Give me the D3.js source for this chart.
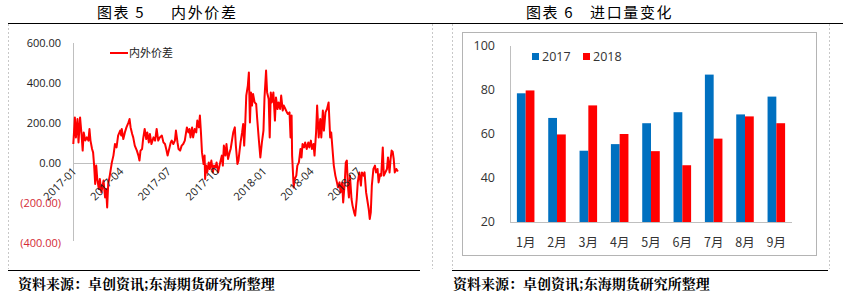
<!DOCTYPE html>
<html>
<head>
<meta charset="utf-8">
<script src="https://cdn.jsdelivr.net/npm/d3@7"></script>
<style>
  html, body { margin: 0; padding: 0; background: #fff; }
  svg { display: block; font-family: "Open Sans", "Noto Sans CJK SC", sans-serif; }
</style>
</head>
<body>
<div id="chart"></div>
<script>
// ---- data: left chart (内外价差) ----
const spreadTicks = ['2017-01', '2017-04', '2017-07', '2017-10', '2018-01', '2018-04', '2018-07']
const spreadYTicks = [600, 400, 200, 0, -200, -400]
const spreadSeries = [
  ['2017-01-01', 95], ['2017-01-04', 228], ['2017-01-06', 128], ['2017-01-09', 220], ['2017-01-11', 103],
  ['2017-01-14', 228], ['2017-01-17', 137], ['2017-01-19', 62], ['2017-01-21', 153], ['2017-01-24', 112],
  ['2017-01-27', 128], ['2017-01-30', 112], ['2017-02-01', 170], ['2017-02-03', 112], ['2017-02-06', 70],
  ['2017-02-08', 53], ['2017-02-10', -13], ['2017-02-12', -105], ['2017-02-14', -13], ['2017-02-16', -80],
  ['2017-02-19', -130], ['2017-02-21', -80], ['2017-02-24', -147], ['2017-02-28', -88], ['2017-03-03', -172],
  ['2017-03-05', -130], ['2017-03-07', -222], ['2017-03-09', -105], ['2017-03-12', -63], ['2017-03-16', 3],
  ['2017-03-19', 37], ['2017-03-22', 95], ['2017-03-25', 78], ['2017-03-28', 137], ['2017-04-01', 162],
  ['2017-04-03', 137], ['2017-04-04', 170], ['2017-04-07', 120], ['2017-04-10', 153], ['2017-04-13', 178],
  ['2017-04-17', 203], ['2017-04-19', 220], ['2017-04-21', 178], ['2017-04-24', 145], ['2017-04-26', 128],
  ['2017-04-29', 87], ['2017-05-03', 62], ['2017-05-06', 37], ['2017-05-08', 12], ['2017-05-10', 62],
  ['2017-05-13', 70], ['2017-05-15', 120], ['2017-05-18', 170], ['2017-05-21', 120], ['2017-05-23', 153],
  ['2017-05-26', 103], ['2017-05-28', 145], ['2017-05-31', 95], ['2017-06-04', 128], ['2017-06-07', 112],
  ['2017-06-10', 170], ['2017-06-13', 112], ['2017-06-16', 128], ['2017-06-20', 137], ['2017-06-23', 103],
  ['2017-06-26', 95], ['2017-06-29', 62], ['2017-07-01', 37], ['2017-07-04', 70], ['2017-07-07', 103],
  ['2017-07-09', 112], ['2017-07-12', 95], ['2017-07-15', 112], ['2017-07-17', 162], ['2017-07-20', 103],
  ['2017-07-22', 70], ['2017-07-25', 62], ['2017-07-28', 87], ['2017-07-31', 95], ['2017-08-03', 112],
  ['2017-08-07', 178], ['2017-08-10', 153], ['2017-08-12', 170], ['2017-08-14', 128], ['2017-08-17', 178],
  ['2017-08-19', 128], ['2017-08-22', 170], ['2017-08-25', 153], ['2017-08-27', 212], ['2017-08-30', 178],
  ['2017-09-01', 237], ['2017-09-03', 153], ['2017-09-05', 53], ['2017-09-08', -5], ['2017-09-10', 37],
  ['2017-09-11', -80], ['2017-09-13', -13], ['2017-09-15', -47], ['2017-09-18', 3], ['2017-09-20', -30],
  ['2017-09-23', 12], ['2017-09-26', -47], ['2017-09-28', -13], ['2017-10-01', -22], ['2017-10-03', 3],
  ['2017-10-06', -47], ['2017-10-10', 3], ['2017-10-13', 37], ['2017-10-15', -13], ['2017-10-17', 87],
  ['2017-10-20', 37], ['2017-10-22', 95], ['2017-10-25', 20], ['2017-10-28', 53], ['2017-10-30', 70],
  ['2017-11-02', 120], ['2017-11-04', 153], ['2017-11-07', 178], ['2017-11-09', 87], ['2017-11-12', -5],
  ['2017-11-14', 12], ['2017-11-18', 103], ['2017-11-21', 153], ['2017-11-23', 195], ['2017-11-25', 87],
  ['2017-11-27', 195], ['2017-11-29', 337], ['2017-12-02', 387], ['2017-12-04', 453], ['2017-12-06', 203],
  ['2017-12-08', 353], ['2017-12-10', 287], ['2017-12-12', 345], ['2017-12-15', 303], ['2017-12-18', 295],
  ['2017-12-20', 220], ['2017-12-23', 120], ['2017-12-26', 28], ['2017-12-29', 103],
  ['2018-01-01', 162], ['2018-01-03', 328], ['2018-01-06', 462], ['2018-01-08', 353], ['2018-01-11', 320],
  ['2018-01-13', 128], ['2018-01-15', 353], ['2018-01-17', 303], ['2018-01-20', 353], ['2018-01-23', 212],
  ['2018-01-25', 328], ['2018-01-28', 270], ['2018-01-30', 303], ['2018-02-02', 270], ['2018-02-04', 337],
  ['2018-02-07', 262], ['2018-02-09', 287], ['2018-02-12', 270], ['2018-02-15', 253], ['2018-02-17', 245],
  ['2018-02-20', 253], ['2018-02-22', 128], ['2018-02-24', 237], ['2018-02-25', 37], ['2018-02-28', -122],
  ['2018-03-02', -80], ['2018-03-05', -63], ['2018-03-07', -13], ['2018-03-10', 3], ['2018-03-13', 70],
  ['2018-03-15', 28], ['2018-03-17', 95], ['2018-03-20', 78], ['2018-03-22', 103], ['2018-03-25', 70],
  ['2018-03-28', 103], ['2018-03-30', 78], ['2018-04-02', 112], ['2018-04-04', 70], ['2018-04-07', 95],
  ['2018-04-09', 37], ['2018-04-12', 153], ['2018-04-14', 287], ['2018-04-17', 128], ['2018-04-20', 220],
  ['2018-04-22', 128], ['2018-04-25', 262], ['2018-04-27', 162], ['2018-04-30', 253], ['2018-05-03', 270],
  ['2018-05-06', 303], ['2018-05-09', 128], ['2018-05-11', 153], ['2018-05-14', 53], ['2018-05-16', -13],
  ['2018-05-19', -63], ['2018-05-22', -97], ['2018-05-24', -122], ['2018-05-27', -97], ['2018-05-29', -147],
  ['2018-06-01', -97], ['2018-06-03', -197], ['2018-06-06', -97], ['2018-06-08', 3], ['2018-06-10', 12],
  ['2018-06-12', -113], ['2018-06-14', -172], ['2018-06-16', -63], ['2018-06-19', -180], ['2018-06-21', -213],
  ['2018-06-24', -247], ['2018-06-26', -263], ['2018-06-29', -180], ['2018-07-01', -97], ['2018-07-04', -47],
  ['2018-07-07', -113], ['2018-07-09', -47], ['2018-07-12', -63], ['2018-07-14', -47], ['2018-07-17', -147],
  ['2018-07-19', -180], ['2018-07-22', -230], ['2018-07-24', -280], ['2018-07-26', -247], ['2018-07-28', -113],
  ['2018-07-31', -30], ['2018-08-03', -13], ['2018-08-05', -47], ['2018-08-08', -30], ['2018-08-10', -97],
  ['2018-08-13', -55], ['2018-08-15', -63], ['2018-08-18', 78], ['2018-08-20', -63], ['2018-08-23', -47],
  ['2018-08-26', -30], ['2018-08-28', 28], ['2018-08-31', -47], ['2018-09-02', 20], ['2018-09-04', 62],
  ['2018-09-06', 57], ['2018-09-08', 20], ['2018-09-10', -47], ['2018-09-13', -30], ['2018-09-16', -43]
]

// ---- data: right chart (进口量变化) ----
const months = ['1月', '2月', '3月', '4月', '5月', '6月', '7月', '8月', '9月']
const years = ['2017', '2018']
const imports2017 = [78.5, 67.3, 52.4, 55.4, 64.9, 69.9, 87, 68.9, 77]
const imports2018 = [79.8, 59.8, 73, 60, 52.2, 45.8, 57.9, 68, 64.9]
const importYTicks = [20, 40, 60, 80, 100]

const RED = '#ff0000'
const BLUE = '#0070c0'
const CJK = '"Noto Sans CJK SC", sans-serif'

const svg = d3.select('#chart').append('svg')
  .attr('width', 843)
  .attr('height', 296)

svg.append('rect').attr('width', 843).attr('height', 296).attr('fill', '#fff')

// frame lines
const frame = svg.append('g')
frame.append('line').attr('x1', 8).attr('x2', 843).attr('y1', 23.5).attr('y2', 23.5)
  .attr('stroke', '#000').attr('stroke-width', 1.2)
frame.append('line').attr('x1', 8).attr('x2', 420).attr('y1', 270.5).attr('y2', 270.5)
  .attr('stroke', '#000').attr('stroke-width', 1.2)
frame.append('line').attr('x1', 452).attr('x2', 828).attr('y1', 270.5).attr('y2', 270.5)
  .attr('stroke', '#000').attr('stroke-width', 1.2)
;[8.5, 432.5, 452.5, 829.5].forEach(x => {
  frame.append('line').attr('x1', x).attr('x2', x).attr('y1', 24).attr('y2', 269)
    .attr('stroke', '#c8c8c8').attr('stroke-dasharray', '2,2')
})

// titles
function title(x, num, name, gap) {
  const t = svg.append('text').attr('x', x).attr('y', 17.5)
    .attr('font-family', CJK).attr('font-size', 15).attr('letter-spacing', 1.6).attr('fill', '#000')
  t.append('tspan').text('图表 ' + num)
  t.append('tspan').attr('dx', gap).text(name)
}
title(97, '5', '内外价差', 26)
title(526, '6', '进口量变化', 16)

// sources
;[18, 453].forEach(x => {
  svg.append('text').attr('x', x).attr('y', 289)
    .attr('font-family', '"Noto Serif CJK SC", ' + CJK).attr('font-weight', 'bold')
    .attr('font-size', 14).attr('fill', '#000')
    .text('资料来源：卓创资讯;东海期货研究所整理')
})

// ---------- left: line chart ----------
const parse = d3.timeParse('%Y-%m-%d')
const parseMonth = d3.timeParse('%Y-%m')
const lineData = spreadSeries.map(([d, v]) => ({ date: parse(d), val: v }))

const x = d3.scaleTime()
  .domain([new Date(2017, 0, 1), new Date(2018, 9, 1)])
  .range([73.3, 405.7])
const y = d3.scaleLinear().domain([-400, 600]).range([243, 43])

const gL = svg.append('g')

// y axis line
gL.append('line').attr('x1', 73.5).attr('x2', 73.5).attr('y1', y(600)).attr('y2', y(-400) - 2)
  .attr('stroke', '#bfbfbf')

// y labels
const fmt = d3.format('.2f')
gL.selectAll('text.ylab').data(spreadYTicks).join('text')
  .attr('class', 'ylab')
  .attr('x', 61).attr('y', d => y(d)).attr('dy', '0.35em')
  .attr('text-anchor', 'end').attr('font-size', 11)
  .attr('fill', d => d < 0 ? '#d42a35' : '#222')
  .text(d => d < 0 ? '(' + fmt(-d) + ')' : fmt(d))

// zero line
gL.append('line').attr('x1', 73.5).attr('x2', 400).attr('y1', Math.round(y(0)) + 0.5).attr('y2', Math.round(y(0)) + 0.5)
  .attr('stroke', '#bfbfbf')

// line
const line = d3.line().x(d => x(d.date)).y(d => y(d.val))
gL.append('path').datum(lineData)
  .attr('d', line).attr('fill', 'none')
  .attr('stroke', RED).attr('stroke-width', 2).attr('stroke-linejoin', 'round')

// x labels (rotated)
gL.selectAll('text.xlab').data(spreadTicks).join('text')
  .attr('class', 'xlab')
  .attr('font-size', 11).attr('fill', '#222')
  .attr('text-anchor', 'end')
  .attr('transform', d => `translate(${x(parseMonth(d)) + 4},${y(0) + 9}) rotate(-45)`)
  .text(d => d)

// legend
gL.append('line').attr('x1', 110).attr('x2', 128).attr('y1', 53).attr('y2', 53)
  .attr('stroke', RED).attr('stroke-width', 2)
gL.append('text').attr('x', 129).attr('y', 53).attr('dy', '0.35em')
  .attr('font-family', CJK).attr('font-size', 11).attr('fill', '#222').text('内外价差')

// ---------- right: bar chart ----------
const gR = svg.append('g')
gR.append('rect').attr('x', 462.5).attr('y', 32.5).attr('width', 354).attr('height', 223)
  .attr('fill', '#fff').attr('stroke', '#b4b4b4')

const xb = d3.scaleBand().domain(months).range([510, 792]).paddingInner(0.44).paddingOuter(0.22)
const xs = d3.scaleBand().domain(years).range([0, xb.bandwidth()])
const yb = d3.scaleLinear().domain([20, 100]).range([222, 46])

gR.selectAll('text.ylab').data(importYTicks).join('text')
  .attr('class', 'ylab')
  .attr('x', 495).attr('y', d => yb(d)).attr('dy', '0.35em')
  .attr('text-anchor', 'end').attr('font-size', 12.5).attr('fill', '#333')
  .text(d => d)

const barData = months.map((m, i) => ({ m, vals: [imports2017[i], imports2018[i]] }))
const colors = d3.scaleOrdinal().domain(years).range([BLUE, RED])

gR.selectAll('g.grp').data(barData).join('g')
  .attr('class', 'grp')
  .attr('transform', d => `translate(${xb(d.m)},0)`)
  .selectAll('rect').data(d => years.map((yr, j) => ({ yr, v: d.vals[j] }))).join('rect')
  .attr('x', d => xs(d.yr))
  .attr('width', xs.bandwidth())
  .attr('y', d => yb(d.v))
  .attr('height', d => yb(20) - yb(d.v))
  .attr('fill', d => colors(d.yr))

// axes lines
gR.append('line').attr('x1', 510.5).attr('x2', 510.5).attr('y1', yb(100)).attr('y2', yb(20))
  .attr('stroke', '#bfbfbf')
gR.append('line').attr('x1', 510).attr('x2', 792).attr('y1', yb(20) + 0.5).attr('y2', yb(20) + 0.5)
  .attr('stroke', '#bfbfbf')

gR.selectAll('text.xlab').data(months).join('text')
  .attr('class', 'xlab')
  .attr('x', d => xb(d) + xb.bandwidth() / 2).attr('y', 247)
  .attr('text-anchor', 'middle').attr('font-family', CJK).attr('font-size', 12.5).attr('fill', '#333')
  .text(d => d)

// legend
const lg = gR.selectAll('g.leg').data(years).join('g')
  .attr('class', 'leg')
  .attr('transform', (d, i) => `translate(${532 + i * 51},53)`)
lg.append('rect').attr('width', 7).attr('height', 7).attr('fill', d => colors(d))
lg.append('text').attr('x', 10).attr('y', 3.5).attr('dy', '0.35em')
  .attr('font-size', 12.5).attr('fill', '#333').text(d => d)
</script>
</body>
</html>
